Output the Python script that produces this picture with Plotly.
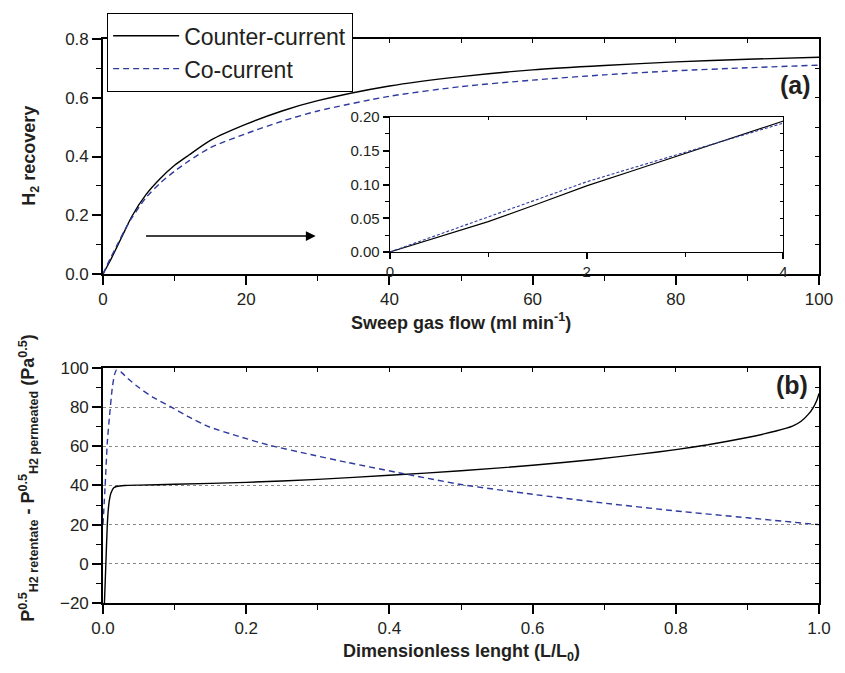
import plotly.graph_objects as go

# ---------------- data ----------------
flow = [0, 1, 2, 3, 4, 6, 8, 10, 12, 15, 20, 25, 30, 40, 50, 60, 70, 80, 90, 100]
rec_counter = [0, 0.045, 0.095, 0.145, 0.195, 0.27, 0.325, 0.37, 0.405, 0.455, 0.51, 0.555,
               0.59, 0.64, 0.672, 0.695, 0.71, 0.722, 0.731, 0.738]
rec_co = [0, 0.052, 0.1, 0.148, 0.19, 0.26, 0.31, 0.35, 0.385, 0.43, 0.478, 0.52,
          0.555, 0.605, 0.638, 0.66, 0.678, 0.692, 0.702, 0.711]

inset_flow = [0, 0.5, 1, 1.5, 2, 2.5, 3, 3.5, 4]
inset_counter = [0, 0.022, 0.045, 0.071, 0.098, 0.122, 0.146, 0.17, 0.194]
inset_co = [0, 0.026, 0.052, 0.078, 0.104, 0.126, 0.148, 0.17, 0.191]

len_counter = [0.002, 0.004, 0.006, 0.008, 0.011, 0.015, 0.02, 0.03, 0.05, 0.1, 0.2, 0.3, 0.4,
               0.5, 0.6, 0.686, 0.75, 0.8, 0.845, 0.9, 0.94, 0.963, 0.975, 0.985, 0.992, 0.997, 1.0]
diff_counter = [-20, 0, 20, 30, 36, 38.8, 39.6, 40, 40.2, 40.6, 41.6, 43.1, 45.2,
                47.5, 50.3, 53.3, 56, 58.3, 60.8, 64.5, 67.8, 70.3, 72.8, 76.3, 79.8, 83.5, 87]

len_co = [0, 0.003, 0.006, 0.009, 0.013, 0.016, 0.019, 0.025, 0.035, 0.05, 0.07, 0.093, 0.12,
          0.148, 0.19, 0.233, 0.29, 0.341, 0.42, 0.5, 0.6, 0.7, 0.8, 0.9, 1.0]
diff_co = [20, 40, 62, 75, 90, 96.5, 99, 98, 94.5, 90, 85, 80.5, 75,
           70, 65, 60.5, 55.8, 51.8, 46, 40.5, 35.5, 31, 27, 23.5, 20]

BLUE = "#2e3a9e"
FONT = "Liberation Sans, Arial, sans-serif"
TXT = "#231f20"

fig = go.Figure()

# panel (a)
fig.add_trace(go.Scatter(x=flow, y=rec_counter, mode="lines", name="Counter-current",
                         line=dict(color="black", width=1.4, shape="spline", smoothing=0.7),
                         xaxis="x", yaxis="y"))
fig.add_trace(go.Scatter(x=flow, y=rec_co, mode="lines", name="Co-current",
                         line=dict(color=BLUE, width=1.4, dash="6px,4px", shape="spline", smoothing=0.7),
                         xaxis="x", yaxis="y"))
# inset
fig.add_trace(go.Scatter(x=inset_flow, y=inset_counter, mode="lines", showlegend=False,
                         line=dict(color="black", width=1.1), xaxis="x3", yaxis="y3"))
fig.add_trace(go.Scatter(x=inset_flow, y=inset_co, mode="lines", showlegend=False,
                         line=dict(color=BLUE, width=1.1, dash="3px,2px"), xaxis="x3", yaxis="y3"))
# panel (b)
fig.add_trace(go.Scatter(x=len_counter, y=diff_counter, mode="lines", showlegend=False,
                         line=dict(color="black", width=1.4, shape="spline", smoothing=0.5),
                         xaxis="x2", yaxis="y2"))
fig.add_trace(go.Scatter(x=len_co, y=diff_co, mode="lines", showlegend=False,
                         line=dict(color=BLUE, width=1.4, dash="6px,4px", shape="spline", smoothing=0.5),
                         xaxis="x2", yaxis="y2"))

# empty traces to register mirror-tick axes
for xa, ya in [("x4", "y"), ("x", "y4"), ("x5", "y2"), ("x2", "y5"), ("x6", "y3"), ("x3", "y6")]:
    fig.add_trace(go.Scatter(x=[None], y=[None], xaxis=xa, yaxis=ya, showlegend=False,
                             hoverinfo="skip", mode="lines"))


def main_axis(rng, dtick, mdtick, domain, anchor, fmt, size=17, tl=9, ml=5):
    return dict(range=rng, domain=domain, anchor=anchor, showline=True, linecolor="black",
                linewidth=1.6, mirror=True, ticks="outside", ticklen=tl, tickwidth=1.5,
                tickcolor="black", tick0=0, dtick=dtick, tickformat=fmt,
                minor=dict(ticks="outside", ticklen=ml, tickwidth=1.3, tickcolor="black",
                           dtick=mdtick, showgrid=False),
                showgrid=False, zeroline=False,
                tickfont=dict(family=FONT, size=size, color=TXT))


def mirror_axis(rng, dtick, over, anchor, side, tl=4):
    return dict(range=rng, overlaying=over, anchor=anchor, side=side, ticks="inside",
                ticklen=tl, tickwidth=1.2, tickcolor="black", tick0=0, dtick=dtick,
                showticklabels=False, showline=False, showgrid=False, zeroline=False)


ya_dom = [0.5833, 1.0]
yb_dom = [0.0, 0.4167]

xaxis = main_axis([0, 100], 20, 10, [0, 1], "y", "d")
yaxis = main_axis([0, 0.8], 0.2, 0.1, ya_dom, "x", ".1f")
xaxis2 = main_axis([0, 1], 0.2, 0.1, [0, 1], "y2", ".1f")
yaxis2 = main_axis([-20, 100], 20, 10, yb_dom, "x2", "d")
yaxis2.update(showgrid=True, gridcolor="#8a8a8a", griddash="dot", gridwidth=1)
xaxis3 = main_axis([0, 4], 2, 1, [0.4006, 0.9503], "y3", "d", size=15, tl=6, ml=4)
yaxis3 = main_axis([0, 0.2], 0.05, 0.025, [0.6223, 0.8617], "x3", ".2f", size=15, tl=6, ml=4)
for a in (xaxis3, yaxis3):
    a.update(linewidth=1.2)

fig.update_layout(
    width=845, height=673,
    margin=dict(l=103, r=18, t=39, b=70),
    paper_bgcolor="white", plot_bgcolor="white",
    xaxis=xaxis, yaxis=yaxis, xaxis2=xaxis2, yaxis2=yaxis2, xaxis3=xaxis3, yaxis3=yaxis3,
    xaxis4=mirror_axis([0, 100], 10, "x", "y", "top"),
    yaxis4=mirror_axis([0, 0.8], 0.1, "y", "x", "right"),
    xaxis5=mirror_axis([0, 1], 0.1, "x2", "y2", "top"),
    yaxis5=mirror_axis([-20, 100], 10, "y2", "x2", "right"),
    xaxis6=mirror_axis([0, 4], 1, "x3", "y3", "top", tl=3),
    yaxis6=mirror_axis([0, 0.2], 0.025, "y3", "x3", "right", tl=3),
    showlegend=True,
    legend=dict(x=0.0055, y=1.046, xanchor="left", yanchor="top", bgcolor="white",
                bordercolor="black", borderwidth=1.2, itemwidth=66, tracegroupgap=0,
                font=dict(family=FONT, size=23, color=TXT)),
    font=dict(family=FONT, color=TXT),
)

title_font = dict(family=FONT, size=18, color=TXT)
ann = [
    dict(text="<b>H<sub>2</sub> recovery</b>", x=-0.1008, y=0.7926, textangle=-90),
    dict(text="<b>Sweep gas flow (ml min<sup>-1</sup>)</b>", x=0.5, y=0.499),
    dict(text="<b>P<sup>0.5</sup><sub>H2 retentate</sub> - P<sup>0.5</sup><sub>H2 permeated</sub> (Pa<sup>0.5</sup>)</b>",
         x=-0.105, y=0.2216, textangle=-90),
    dict(text="<b>Dimensionless lenght (L/L<sub>0</sub>)</b>", x=0.5, y=-0.088),
]
for a in ann:
    fig.add_annotation(xref="paper", yref="paper", showarrow=False, font=title_font,
                       xanchor="center", yanchor="middle", **a)

fig.add_annotation(text="<b>(a)</b>", xref="paper", yref="paper", x=0.992, y=0.918,
                   xanchor="right", yanchor="middle", showarrow=False,
                   font=dict(family=FONT, size=25, color=TXT))
fig.add_annotation(text="<b>(b)</b>", xref="paper", yref="paper", x=0.988, y=0.387,
                   xanchor="right", yanchor="middle", showarrow=False,
                   font=dict(family=FONT, size=25, color=TXT))

# arrow pointing to the inset
fig.add_annotation(x=29.7, y=0.129, ax=5.8, ay=0.129, xref="x", yref="y", axref="x", ayref="y",
                   text="", showarrow=True, arrowhead=2, arrowsize=1.3, arrowwidth=1.5,
                   arrowcolor="black")

fig.write_html("out.html")
